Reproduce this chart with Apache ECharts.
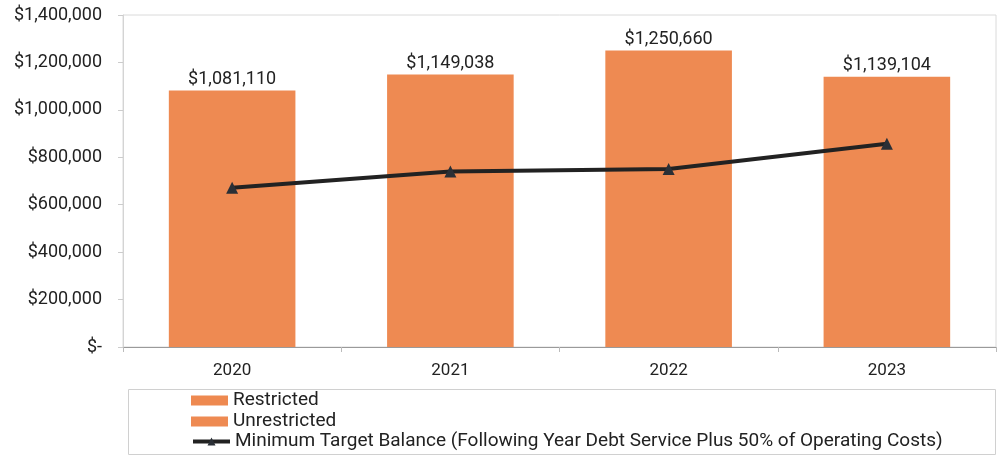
<!DOCTYPE html>
<html><head><meta charset="utf-8">
<script src="https://cdn.jsdelivr.net/npm/echarts@6/dist/echarts.min.js"></script>
<style>html,body{margin:0;padding:0;background:#fff}#c{width:998px;height:457px}</style>
</head><body><div id="c"></div>
<script>
const categories = ['2020', '2021', '2022', '2023'];
const restricted = [0, 0, 0, 0];
const unrestricted = [1081110, 1149038, 1250660, 1139104];
const minTarget = [672000, 740000, 751000, 857000];
const yTicks = { min: 0, max: 1400000, interval: 200000 };
const seriesNames = ['Restricted', 'Unrestricted',
  'Minimum Target Balance (Following Year Debt Service Plus 50% of Operating Costs)'];

const fmt = v => v === 0 ? '$-' : '$' + v.toLocaleString('en-US');
const FONT = 'Roboto';
const legendTops = [391, 412, 432];
const legends = seriesNames.map((n, i) => ({
  orient: 'vertical', left: 191, top: legendTops[i], padding: 0,
  itemWidth: 37, itemHeight: 10, itemGap: 0,
  textStyle: { fontSize: 19, color: '#222', fontFamily: FONT },
  data: [i < 2 ? { name: n, icon: 'rect' } : { name: n, lineStyle: { width: 4, color: '#222' } }]
}));

const chart = echarts.init(document.getElementById('c'));
chart.setOption({
  animation: false,
  textStyle: { fontFamily: FONT },
  grid: { left: 123, right: 2, top: 15, bottom: 110, show: true, borderColor: '#dadada', borderWidth: 1 },
  xAxis: {
    type: 'category', data: categories,
    axisLine: { lineStyle: { color: '#9a9a9a', width: 1 } },
    axisTick: { show: true, length: 5, lineStyle: { color: '#bbb' } },
    axisLabel: { color: '#222', fontSize: 17, margin: 15, fontFamily: FONT }
  },
  yAxis: {
    type: 'value', min: yTicks.min, max: yTicks.max, interval: yTicks.interval,
    splitLine: { show: false },
    axisLine: { show: true, lineStyle: { color: '#d4d4d4' } },
    axisTick: { show: true, length: 5, lineStyle: { color: '#ccc' } },
    axisLabel: { color: '#222', fontSize: 18, margin: 21, formatter: fmt, fontFamily: FONT }
  },
  legend: legends,
  graphic: [{
    type: 'rect', left: 126, top: 387, shape: { width: 867, height: 65 },
    style: { fill: 'none', stroke: '#d0d0d0', lineWidth: 1 }, silent: true
  }],
  series: [
    { name: seriesNames[0], type: 'bar', stack: 'total', data: restricted, barWidth: '58%',
      itemStyle: { color: '#EE8950' } },
    { name: seriesNames[1], type: 'bar', stack: 'total', data: unrestricted, barWidth: '58%',
      itemStyle: { color: '#EE8A52' },
      label: { show: true, position: 'top', distance: 2, color: '#222', fontSize: 18, fontFamily: FONT,
        formatter: p => fmt(p.value) } },
    { name: seriesNames[2], type: 'line', data: minTarget, symbol: 'triangle', symbolSize: 12,
      lineStyle: { color: '#222', width: 4 }, itemStyle: { color: '#2a2f36' } }
  ]
});
</script></body></html>
